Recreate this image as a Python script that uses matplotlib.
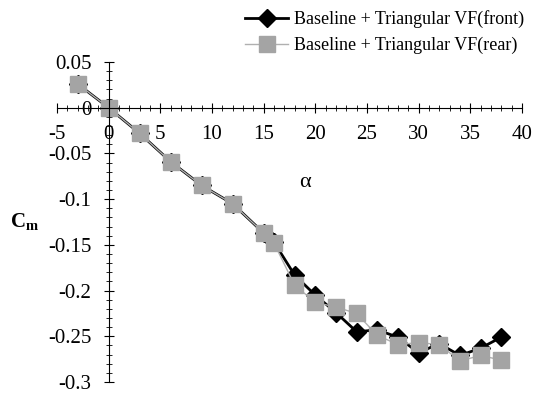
import numpy as np
import matplotlib
matplotlib.use('Agg')
import matplotlib.pyplot as plt
from matplotlib.ticker import MultipleLocator, FormatStrFormatter

plt.rcParams['font.family'] = 'Liberation Serif'
plt.rcParams['mathtext.fontset'] = 'custom'
plt.rcParams['mathtext.rm'] = 'Liberation Serif'
plt.rcParams['mathtext.bf'] = 'Liberation Serif:bold'

# angle of attack
alpha = [-3, 0, 3, 6, 9, 12, 15, 16, 18, 20, 22, 24, 26, 28, 30, 32, 34, 36, 38]

cm_front = [0.026, 0.0, -0.028, -0.059, -0.085, -0.105, -0.137, -0.147, -0.183, -0.205,
            -0.224, -0.245, -0.243, -0.251, -0.268, -0.258, -0.271, -0.263, -0.251]
cm_rear = [0.026, 0.0, -0.028, -0.059, -0.085, -0.105, -0.137, -0.148, -0.194, -0.213,
           -0.218, -0.225, -0.249, -0.259, -0.257, -0.259, -0.277, -0.271, -0.276]

label_front = 'Baseline + Triangular VF(front)'
label_rear = 'Baseline + Triangular VF(rear)'

fig = plt.figure(figsize=(5.35, 3.99), dpi=100)
ax = fig.add_axes([0.1065, 0.0426, 0.869, 0.802])

ax.plot(alpha, cm_front, color='black', lw=2, marker='D', markersize=9.5,
        markerfacecolor='black', markeredgecolor='black', label=label_front)
ax.plot(alpha, cm_rear, color='#b0b0b0', lw=1, marker='s', markersize=11,
        markerfacecolor='#a4a4a4', markeredgecolor='#a4a4a4', label=label_rear)

ax.set_xlim(-5, 40)
ax.set_ylim(-0.3, 0.05)

ax.spines['left'].set_position(('data', 0))
ax.spines['bottom'].set_position(('data', 0))
ax.spines['right'].set_visible(False)
ax.spines['top'].set_visible(False)
ax.spines['left'].set_linewidth(0.8)
ax.spines['bottom'].set_linewidth(0.8)

ax.xaxis.set_major_locator(MultipleLocator(5))
ax.xaxis.set_minor_locator(MultipleLocator(1))
ax.yaxis.set_major_locator(MultipleLocator(0.05))
ax.yaxis.set_minor_locator(MultipleLocator(0.01))
ax.yaxis.set_major_formatter(FormatStrFormatter('%g'))
ax.xaxis.set_major_formatter(FormatStrFormatter('%g'))

ax.tick_params(which='major', direction='inout', length=7, width=0.8, labelsize=15)
ax.tick_params(which='minor', direction='inout', length=4, width=0.6)
ax.tick_params(axis='x', which='major', pad=9)
ax.tick_params(axis='y', which='major', pad=9)

ax.text(19, -0.082, 'α', fontsize=16, ha='center', va='center')
fig.text(0.045, 0.443, r'$\mathbf{C}_\mathbf{m}$', fontsize=15, ha='center', va='center')

ax.legend(loc='upper right', bbox_to_anchor=(1.02, 1.185), frameon=False, fontsize=13,
          handlelength=2.4, handletextpad=0.3, labelspacing=0.5, borderaxespad=0)

fig.savefig('out.png', dpi=100)
